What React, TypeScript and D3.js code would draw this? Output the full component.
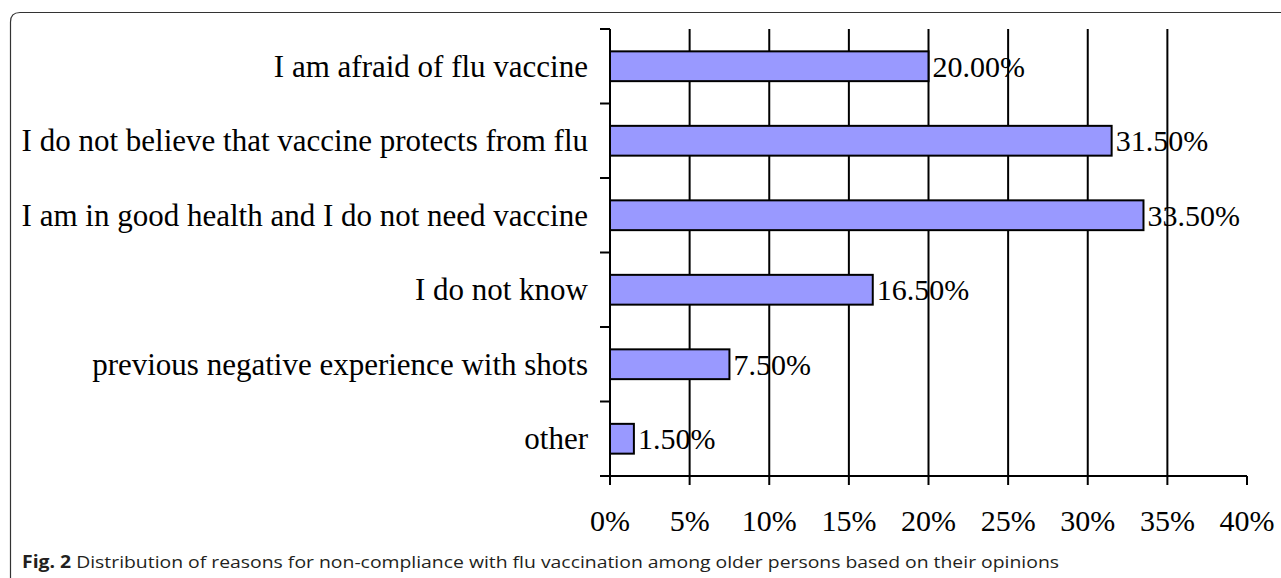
import { useRef, useEffect } from 'react';
import * as d3 from 'd3';

const categories = [
  'I am afraid of flu vaccine',
  'I do not believe that vaccine protects from flu',
  'I am in good health and I do not need vaccine',
  'I do not know',
  'previous negative experience with shots',
  'other',
];
const values = [20.0, 31.5, 33.5, 16.5, 7.5, 1.5];
const xTicks = [0, 5, 10, 15, 20, 25, 30, 35, 40];
const gridTicks = [5, 10, 15, 20, 25, 30, 35];

const WIDTH = 1281;
const HEIGHT = 578;

export default function App() {
  const svgRef = useRef<SVGSVGElement>(null);

  useEffect(() => {
    if (!svgRef.current) return;
    const svg = d3.select(svgRef.current);
    svg.selectAll('*').remove();

    const left = 610;
    const right = 1247;
    const top = 29;
    const bottom = 476;
    const serif = '"Liberation Serif", "Times New Roman", serif';
    const fs = 30;

    // frame with rounded top-left corner
    svg.append('path')
      .attr('d', `M10.5,${HEIGHT} L10.5,22 Q10.5,12.5 20,12.5 L${WIDTH},12.5`)
      .attr('fill', 'none')
      .attr('stroke', '#333')
      .attr('stroke-width', 1.2);

    const x = d3.scaleLinear().domain([0, 40]).range([left, right]);
    const y = d3.scaleBand<string>()
      .domain(categories)
      .range([top, bottom])
      .paddingInner(0.6)
      .paddingOuter(0.3);
    const bandStep = (bottom - top) / categories.length;

    // grid lines
    svg.append('g')
      .selectAll('line')
      .data(gridTicks)
      .join('line')
      .attr('x1', d => x(d))
      .attr('x2', d => x(d))
      .attr('y1', top)
      .attr('y2', bottom)
      .attr('stroke', '#000')
      .attr('stroke-width', 2);

    // bars
    svg.append('g')
      .selectAll('rect')
      .data(values)
      .join('rect')
      .attr('x', x(0))
      .attr('y', (_, i) => y(categories[i])!)
      .attr('width', d => x(d) - x(0))
      .attr('height', y.bandwidth())
      .attr('fill', '#9999FF')
      .attr('stroke', '#000')
      .attr('stroke-width', 2);

    // value labels
    svg.append('g')
      .selectAll('text')
      .data(values)
      .join('text')
      .attr('x', d => x(d) + 4)
      .attr('y', (_, i) => y(categories[i])! + y.bandwidth() / 2 + 10.5)
      .attr('font-family', serif)
      .attr('font-size', fs)
      .attr('fill', '#000')
      .text(d => `${d.toFixed(2)}%`);

    // y axis line and ticks
    svg.append('line')
      .attr('x1', left).attr('x2', left)
      .attr('y1', top).attr('y2', bottom)
      .attr('stroke', '#000').attr('stroke-width', 2);
    svg.append('g')
      .selectAll('line')
      .data(d3.range(categories.length + 1))
      .join('line')
      .attr('x1', left - 10).attr('x2', left)
      .attr('y1', d => top + d * bandStep)
      .attr('y2', d => top + d * bandStep)
      .attr('stroke', '#000').attr('stroke-width', 2);

    // category labels
    svg.append('g')
      .selectAll('text')
      .data(categories)
      .join('text')
      .attr('x', 588)
      .attr('y', d => y(d)! + y.bandwidth() / 2 + 10.5)
      .attr('text-anchor', 'end')
      .attr('font-family', serif)
      .attr('font-size', 31)
      .attr('fill', '#000')
      .text(d => d);

    // x axis line and ticks
    svg.append('line')
      .attr('x1', left - 10).attr('x2', right)
      .attr('y1', bottom).attr('y2', bottom)
      .attr('stroke', '#000').attr('stroke-width', 2);
    svg.append('g')
      .selectAll('line')
      .data(xTicks)
      .join('line')
      .attr('x1', d => x(d)).attr('x2', d => x(d))
      .attr('y1', bottom).attr('y2', bottom + 9)
      .attr('stroke', '#000').attr('stroke-width', 2);
    svg.append('g')
      .selectAll('text')
      .data(xTicks)
      .join('text')
      .attr('x', d => x(d))
      .attr('y', 531)
      .attr('text-anchor', 'middle')
      .attr('font-family', serif)
      .attr('font-size', fs)
      .attr('fill', '#000')
      .text(d => `${d}%`);

    // caption
    const cap = svg.append('text')
      .attr('x', 22)
      .attr('y', 568)
      .attr('font-family', '"Open Sans", "Noto Sans", sans-serif')
      .attr('font-size', 17)
      .attr('textLength', 1037)
      .attr('lengthAdjust', 'spacingAndGlyphs')
      .attr('fill', '#231f20');
    cap.append('tspan').attr('font-weight', 'bold').text('Fig. 2');
    cap.append('tspan').text(' Distribution of reasons for non-compliance with flu vaccination among older persons based on their opinions');
  }, []);

  return (
    <svg
      ref={svgRef}
      width={WIDTH}
      height={HEIGHT}
      style={{ position: 'absolute', left: 0, top: 0, background: '#fff' }}
    />
  );
}
